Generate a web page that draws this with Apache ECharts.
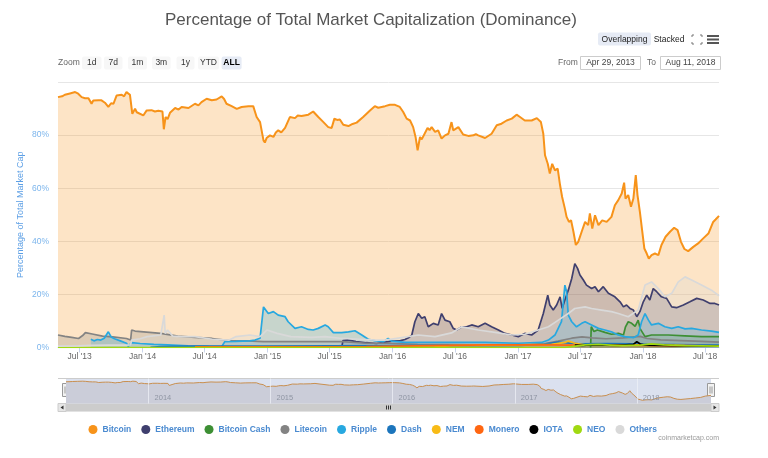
<!DOCTYPE html>
<html><head><meta charset="utf-8">
<script src="https://cdn.jsdelivr.net/npm/echarts@6/dist/echarts.min.js"></script>
<style>html,body{margin:0;padding:0;background:#fff}#chart{width:768px;height:458px}</style>
</head><body><div id="chart"></div>
<script>
// ---------- DATA (day offset from 2013-04-29, % dominance) ----------
const startDate = '2013-04-29';
const endDate = '2018-08-11';
const seriesNames = ['Bitcoin','Ethereum','Bitcoin Cash','Litecoin','Ripple','Dash','NEM','Monero','IOTA','NEO','Others'];
const seriesColors = ['#f7931a','#3f3f6e','#3d8f34','#838383','#27a8e0','#1c75bc','#f8bb16','#ff6611','#000000','#a0d911','#d9d9d9'];

const bitcoin = [[0,94.3],[5,94.8],[12,94.6],[20,95.2],[35,95.7],[50,96.2],[59,95.6],[69,94.3],[79,93.9],[89,93.9],[98,91.8],[103,93.0],[108,92.7],[118,93.1],[127,93.1],[137,92.2],[147,90.6],[155,92.0],[162,91.8],[171,94.9],[186,95.2],[193,94.6],[200,96.2],[210,95.2],[217,88.0],[225,89.9],[230,88.6],[235,88.4],[249,87.4],[259,89.3],[273,89.4],[283,88.9],[293,89.2],[305,88.9],[309,82.2],[314,86.8],[320,86.0],[327,88.4],[342,90.2],[352,89.6],[361,90.6],[381,90.2],[400,91.8],[410,91.2],[419,92.4],[434,93.7],[449,93.1],[463,93.4],[478,94.6],[485,93.6],[492,91.8],[507,90.9],[522,89.9],[536,90.6],[556,90.9],[570,90.9],[580,86.8],[590,84.9],[600,78.0],[604,77.2],[609,78.9],[619,79.9],[629,79.3],[636,81.0],[643,81.8],[652,81.0],[663,82.7],[677,86.8],[692,86.4],[700,87.4],[711,87.2],[731,87.7],[745,88.9],[760,86.8],[775,84.9],[789,83.0],[799,82.7],[807,86.2],[815,85.7],[823,85.9],[833,83.9],[848,83.4],[860,84.2],[872,84.7],[891,86.8],[911,89.3],[925,90.9],[935,90.3],[945,90.6],[955,90.9],[969,91.4],[984,91.4],[998,90.6],[1008,88.7],[1018,86.2],[1028,85.5],[1037,83.0],[1044,79.3],[1050,74.3],[1057,79.3],[1062,78.4],[1067,78.7],[1079,82.7],[1085,81.9],[1091,83.0],[1101,81.2],[1110,81.8],[1120,78.7],[1130,79.9],[1140,80.5],[1149,84.9],[1154,81.8],[1159,82.4],[1169,83.0],[1183,80.2],[1198,79.7],[1213,79.9],[1220,80.4],[1227,79.9],[1247,78.9],[1266,80.5],[1281,83.7],[1295,84.3],[1310,85.5],[1325,86.2],[1339,87.7],[1349,86.8],[1363,85.5],[1383,85.5],[1398,86.4],[1410,84.9],[1417,80.5],[1422,72.4],[1430,69.2],[1436,65.5],[1443,69.2],[1451,66.7],[1459,67.4],[1466,61.1],[1472,56.7],[1480,52.3],[1485,49.2],[1492,47.3],[1498,47.9],[1505,43.6],[1512,38.6],[1519,39.8],[1529,43.6],[1539,47.3],[1548,46.1],[1553,50.5],[1560,44.8],[1568,49.8],[1578,46.1],[1589,47.9],[1602,47.3],[1616,49.2],[1626,53.6],[1636,55.5],[1646,58.0],[1653,62.1],[1657,56.1],[1665,57.4],[1673,53.0],[1680,56.1],[1687,64.9],[1692,57.4],[1699,51.1],[1706,43.6],[1712,37.3],[1719,35.4],[1725,33.5],[1733,34.8],[1743,35.4],[1753,34.8],[1762,38.6],[1774,41.7],[1787,43.6],[1799,45.1],[1809,44.2],[1819,39.8],[1829,37.1],[1840,36.3],[1855,37.9],[1869,39.2],[1884,41.1],[1899,42.9],[1913,47.3],[1920,48.2],[1930,49.6]];

const ethereum = [[829,0.4],[832,2.6],[845,2.9],[870,2.2],[900,1.8],[930,1.5],[955,2.0],[975,2.4],[1000,2.6],[1013,3.0],[1025,3.8],[1033,4.7],[1042,9.7],[1052,12.8],[1062,11.0],[1071,11.6],[1081,7.8],[1096,9.1],[1110,8.5],[1120,12.8],[1130,10.3],[1144,9.7],[1154,7.2],[1164,6.6],[1179,7.8],[1193,7.8],[1208,8.5],[1227,7.8],[1247,9.1],[1266,7.8],[1286,6.6],[1305,5.3],[1325,4.7],[1344,4.1],[1363,5.3],[1383,4.7],[1402,6.6],[1417,12.8],[1430,19.7],[1436,16.0],[1446,14.1],[1456,16.0],[1466,19.1],[1472,14.7],[1480,17.9],[1490,21.6],[1500,26.0],[1509,31.6],[1517,29.8],[1524,27.3],[1534,25.4],[1543,23.5],[1558,22.2],[1568,22.9],[1578,21.0],[1592,22.9],[1607,20.4],[1626,19.1],[1641,17.2],[1651,15.3],[1660,16.0],[1670,14.7],[1680,14.1],[1690,11.6],[1699,13.5],[1709,17.2],[1719,19.7],[1728,17.9],[1738,22.2],[1748,21.0],[1762,19.1],[1777,18.5],[1792,15.3],[1806,15.0],[1826,16.0],[1845,17.2],[1865,18.5],[1884,17.9],[1904,16.6],[1918,16.6],[1930,16.0]];

const bitcoinCash = [[1555,0.0],[1557,7.8],[1565,6.0],[1575,6.6],[1597,5.7],[1616,5.0],[1636,5.3],[1651,4.7],[1657,7.8],[1665,9.7],[1675,9.1],[1685,8.0],[1694,10.3],[1700,7.0],[1714,4.1],[1733,4.7],[1782,4.7],[1830,4.4],[1879,4.1],[1930,4.1]];

const litecoin = [[0,4.7],[20,4.2],[40,3.8],[60,3.4],[72,4.5],[80,5.6],[100,5.1],[130,4.3],[160,4.0],[200,3.4],[212,2.8],[215,6.6],[225,6.2],[250,5.9],[300,5.3],[350,4.3],[400,3.8],[450,3.4],[500,2.6],[550,2.5],[600,2.2],[700,2.2],[800,2.2],[830,2.2],[900,1.6],[960,1.6],[1050,1.2],[1200,1.0],[1350,0.9],[1420,1.4],[1460,2.4],[1500,3.5],[1530,4.0],[1560,3.6],[1600,3.3],[1650,3.6],[1700,4.2],[1720,3.4],[1760,2.9],[1820,2.6],[1880,2.3],[1930,2.0]];

const ripple = [[96,3.1],[105,2.5],[115,3.0],[125,2.8],[135,3.5],[147,5.9],[155,4.0],[165,3.3],[180,2.6],[200,1.6],[205,0.4],[215,1.8],[240,1.5],[280,1.2],[320,1.0],[380,0.6],[440,0.4],[478,0.3],[487,2.2],[520,2.3],[560,2.5],[575,2.8],[590,3.5],[600,15.3],[614,12.8],[629,13.5],[643,12.2],[663,11.6],[672,9.7],[692,7.2],[711,7.8],[731,6.8],[745,6.6],[760,7.2],[780,8.5],[789,7.8],[804,5.6],[828,5.6],[848,5.9],[867,6.3],[887,4.7],[906,3.1],[925,2.6],[950,2.2],[964,3.4],[974,2.4],[1013,1.9],[1101,1.9],[1247,1.9],[1344,1.6],[1412,1.9],[1432,2.8],[1451,4.7],[1470,9.7],[1480,23.5],[1485,21.0],[1490,12.2],[1500,9.7],[1514,7.8],[1529,9.1],[1539,9.7],[1558,8.5],[1578,7.2],[1597,6.6],[1616,5.9],[1636,4.7],[1655,4.1],[1680,3.7],[1694,4.7],[1704,9.7],[1714,12.8],[1724,10.3],[1733,8.5],[1753,9.1],[1772,7.8],[1792,7.2],[1811,7.8],[1831,7.0],[1850,7.2],[1879,6.6],[1908,6.2],[1930,5.7]];

const dash = [[270,0.1],[300,0.3],[400,0.5],[600,0.5],[800,0.6],[1000,0.7],[1200,0.7],[1350,0.8],[1420,1.3],[1460,2.0],[1520,1.4],[1600,1.5],[1680,1.4],[1720,1.2],[1800,1.1],[1930,0.9]];

const nem = [[700,0.1],[1100,0.2],[1149,0.7],[1344,1.0],[1441,1.2],[1480,1.9],[1490,2.4],[1510,1.6],[1539,1.0],[1636,0.8],[1700,1.0],[1750,0.9],[1930,0.5]];

const monero = [[400,0.2],[900,0.3],[1149,0.8],[1250,1.0],[1344,1.0],[1441,1.0],[1490,0.9],[1600,0.9],[1700,0.8],[1800,0.7],[1930,0.6]];

const iota = [[1509,0.9],[1530,0.8],[1558,1.0],[1636,0.8],[1680,1.2],[1683,1.9],[1690,2.2],[1700,1.3],[1714,0.9],[1800,0.7],[1930,0.5]];

const neo = [[0,0.0],[1480,0.0],[1500,0.3],[1539,1.0],[1578,1.2],[1636,0.7],[1700,0.9],[1733,1.4],[1770,1.0],[1830,0.7],[1930,0.5]];

const others = [[0,0.5],[60,0.6],[100,0.8],[150,0.9],[200,0.9],[212,1.0],[215,2.8],[240,3.3],[260,4.1],[300,4.7],[305,5.0],[310,12.2],[313,5.3],[320,6.6],[335,4.3],[360,4.1],[400,4.1],[450,3.1],[500,2.8],[520,4.1],[560,4.7],[590,4.1],[600,5.3],[610,6.6],[640,5.3],[680,4.1],[740,3.8],[780,4.1],[830,3.4],[880,3.1],[930,2.8],[955,2.8],[1052,4.7],[1101,4.1],[1149,5.5],[1179,7.8],[1227,6.6],[1276,5.7],[1325,4.7],[1363,5.0],[1402,6.6],[1432,7.8],[1461,10.3],[1490,12.8],[1509,14.7],[1539,15.3],[1558,14.7],[1587,14.1],[1616,13.5],[1636,12.8],[1665,11.6],[1694,14.1],[1714,23.5],[1733,24.7],[1753,22.2],[1772,19.1],[1792,20.4],[1811,24.7],[1831,26.6],[1850,25.4],[1879,23.5],[1908,21.6],[1930,19.5]];

const xTickDates = ['2013-07-01','2014-01-01','2014-07-01','2015-01-01','2015-07-01','2016-01-01','2016-07-01','2017-01-01','2017-07-01','2018-01-01','2018-07-01'];
const xTickLabels = ["Jul '13","Jan '14","Jul '14","Jan '15","Jul '15","Jan '16","Jul '16","Jan '17","Jul '17","Jan '18","Jul '18"];
const navYearDates = ['2014-01-01','2015-01-01','2016-01-01','2017-01-01','2018-01-01'];
const navYearLabels = ['2014','2015','2016','2017','2018'];
const zoomButtons = ['1d','7d','1m','3m','1y','YTD','ALL'];
const fromText = 'Apr 29, 2013';
const toText = 'Aug 11, 2018';

// ---------- BUILD ----------
const DAY = 86400000;
const T0 = Date.parse(startDate);
const T1 = Date.parse(endDate);
const mk = arr => arr.map(p => [T0 + p[0] * DAY, p[1]]);
const xTickTimes = xTickDates.map(d => Date.parse(d));
const navTimes = navYearDates.map(d => Date.parse(d));
const FONT = "'Liberation Sans',Arial,sans-serif";
const allData = [bitcoin, ethereum, bitcoinCash, litecoin, ripple, dash, nem, monero, iota, neo, others];
const lookup = (times, labels) => v => { const i = times.findIndex(t => Math.abs(t - v) < DAY / 2); return i >= 0 ? labels[i] : ''; };

const series = allData.map((d, i) => ({
  name: seriesNames[i], type: 'line', xAxisIndex: 0, yAxisIndex: 0,
  data: mk(d), symbol: 'none', showSymbol: false, silent: true,
  itemStyle: { color: seriesColors[i] },
  lineStyle: { color: seriesColors[i], width: i === 0 ? 2 : 1.7 },
  areaStyle: { color: seriesColors[i], opacity: 0.25 },
  emphasis: { disabled: true }
}));
series.push({
  name: 'nav', type: 'line', xAxisIndex: 1, yAxisIndex: 1, data: mk(bitcoin),
  symbol: 'none', showSymbol: false, silent: true, z: 1,
  lineStyle: { color: '#c98f4f', width: 1 },
  areaStyle: { color: '#cbcdd9', opacity: 1 },
  emphasis: { disabled: true }
});

const txt = (text, x, y, opts = {}) => ({
  type: 'text', silent: true,
  style: Object.assign({ text, x, y, fontFamily: FONT, fontSize: 8.5, fill: '#666',
    textAlign: 'left', textVerticalAlign: 'middle', align: 'left', verticalAlign: 'middle' }, opts)
});
const rect = (x, y, w, h, fill, stroke, r) => ({
  type: 'rect', silent: true, shape: { x, y, width: w, height: h, r: r || 0 },
  style: { fill, stroke: stroke || null, lineWidth: stroke ? 1 : 0 }
});

const g = [];
g.push(txt('Zoom', 58, 63));
const btnBoxes = [[82,19.5],[104,18.5],[128,19],[152,18.6],[176.5,18],[198,21],[221.6,20]];
zoomButtons.forEach((b, i) => {
  const [bx, bw] = btnBoxes[i];
  const sel = b === 'ALL';
  g.push(rect(bx, 56.5, bw, 13, sel ? '#e6ebf5' : '#f7f7f7', null, 2));
  g.push(txt(b, bx + bw / 2, 63, { fill: sel ? '#000' : '#333', fontWeight: sel ? 'bold' : 'normal', textAlign: 'center', align: 'center' }));
});
g.push(txt('From', 558, 63));
g.push(rect(580.5, 56.5, 60, 13, '#fff', '#cccccc', 0));
g.push(txt(fromText, 610.5, 63, { fill: '#444', textAlign: 'center', align: 'center' }));
g.push(txt('To', 647, 63));
g.push(rect(660.5, 56.5, 60, 13, '#fff', '#cccccc', 0));
g.push(txt(toText, 690.5, 63, { fill: '#444', textAlign: 'center', align: 'center' }));
g.push(rect(598, 32.5, 53, 13, '#e6ebf5', null, 2));
g.push(txt('Overlapping', 624.5, 39.5, { fill: '#222', textAlign: 'center', align: 'center' }));
g.push(txt('Stacked', 669, 39.5, { fill: '#222', textAlign: 'center', align: 'center' }));
const fs = [[[692,37],[692,35],[694,35]],[[700,35],[702,35],[702,37]],[[692,42],[692,44],[694,44]],[[700,44],[702,44],[702,42]]];
fs.forEach(pts => g.push({ type: 'polyline', silent: true, shape: { points: pts }, style: { stroke: '#777', lineWidth: 1, fill: null } }));
[35, 38.5, 42].forEach(yy => g.push(rect(707, yy, 12, 2, '#555', null, 0)));
g.push({ type: 'line', silent: true, shape: { x1: 58, y1: 378.5, x2: 719, y2: 378.5 }, style: { stroke: '#cccccc', lineWidth: 1 } });
[66, 711].forEach(hx => {
  g.push(rect(hx - 3.5, 383.5, 7, 13, '#f2f2f2', '#999999', 0));
  g.push({ type: 'line', silent: true, shape: { x1: hx - 1, y1: 386.5, x2: hx - 1, y2: 393.5 }, style: { stroke: '#999', lineWidth: 1 } });
  g.push({ type: 'line', silent: true, shape: { x1: hx + 1, y1: 386.5, x2: hx + 1, y2: 393.5 }, style: { stroke: '#999', lineWidth: 1 } });
});
g.push(rect(58, 403.5, 661, 8, '#f2f2f2', null, 0));
g.push(rect(66, 403.5, 645, 8, '#cccccc', null, 0));
[386.5, 388.5, 390.5].forEach(lx => g.push({ type: 'line', silent: true, shape: { x1: lx, y1: 405.5, x2: lx, y2: 409.5 }, style: { stroke: '#333', lineWidth: 1 } }));
g.push(rect(58, 403.5, 8, 8, '#e6e6e6', '#cccccc', 0));
g.push(rect(711, 403.5, 8, 8, '#e6e6e6', '#cccccc', 0));
g.push({ type: 'polygon', silent: true, shape: { points: [[63.5,405.5],[63.5,409.5],[60.5,407.5]] }, style: { fill: '#333' } });
g.push({ type: 'polygon', silent: true, shape: { points: [[713.5,405.5],[713.5,409.5],[716.5,407.5]] }, style: { fill: '#333' } });
g.push(txt('coinmarketcap.com', 719, 438, { fontSize: 7, fill: '#999', textAlign: 'right', align: 'right' }));

const chart = echarts.init(document.getElementById('chart'), null, { renderer: 'canvas' });
chart.setOption({
  animation: false,
  backgroundColor: '#fff',
  textStyle: { fontFamily: FONT },
  title: {
    text: 'Percentage of Total Market Capitalization (Dominance)',
    left: 160, top: 7,
    textStyle: { fontFamily: FONT, fontSize: 17, fontWeight: 'normal', color: '#555' }
  },
  legend: {
    data: seriesNames, left: 83.5, top: 420, icon: 'circle', itemWidth: 9, itemHeight: 9, itemGap: 10,
    selectedMode: false,
    textStyle: { fontFamily: FONT, fontSize: 8.5, fontWeight: 'bold', color: '#4a8ad0' }
  },
  grid: [
    { left: 58, right: 49, top: 82, height: 265.5 },
    { left: 66, right: 57, top: 378.5, height: 25, show: true, backgroundColor: '#dbe1ef', borderWidth: 0 }
  ],
  xAxis: [
    {
      type: 'value', gridIndex: 0, min: T0, max: T1, scale: true,
      axisLine: { show: true, lineStyle: { color: '#ccd6eb' } },
      axisTick: { show: true, customValues: xTickTimes, length: 5, lineStyle: { color: '#ccd6eb' } },
      axisLabel: {
        customValues: xTickTimes, color: '#666', fontSize: 8.5, fontFamily: FONT, margin: 5, hideOverlap: false,
        formatter: lookup(xTickTimes, xTickLabels)
      },
      splitLine: { show: false }
    },
    {
      type: 'value', gridIndex: 1, min: T0, max: T1, scale: true, z: 5,
      axisLine: { show: false }, axisTick: { show: false, customValues: navTimes },
      splitLine: { show: true, lineStyle: { color: 'rgba(240,242,248,0.7)', width: 1 } },
      axisLabel: {
        customValues: navTimes, inside: true, align: 'left', color: '#8f95a3', fontSize: 7.5, fontFamily: FONT, margin: 2,
        padding: [0, 0, 0, 6], hideOverlap: false,
        formatter: lookup(navTimes, navYearLabels)
      }
    }
  ],
  yAxis: [
    {
      type: 'value', gridIndex: 0, min: 0, max: 100, interval: 20,
      axisLine: { show: false }, axisTick: { show: false },
      splitLine: { show: true, lineStyle: { color: '#e6e6e6' } },
      axisLabel: { formatter: '{value}%', color: '#7cb5ec', fontSize: 8.5, fontFamily: FONT, margin: 9, showMaxLabel: false, padding: [0, 0, 6, 0] },
      name: 'Percentage of Total Market Cap', nameLocation: 'middle', nameGap: 33, nameMoveOverlap: false,
      nameTextStyle: { color: '#5c9fe5', fontSize: 9, fontFamily: FONT }
    },
    { type: 'value', gridIndex: 1, min: 23, max: 105, show: false }
  ],
  tooltip: { show: false },
  series: series,
  graphic: g
});
</script>
</body></html>
